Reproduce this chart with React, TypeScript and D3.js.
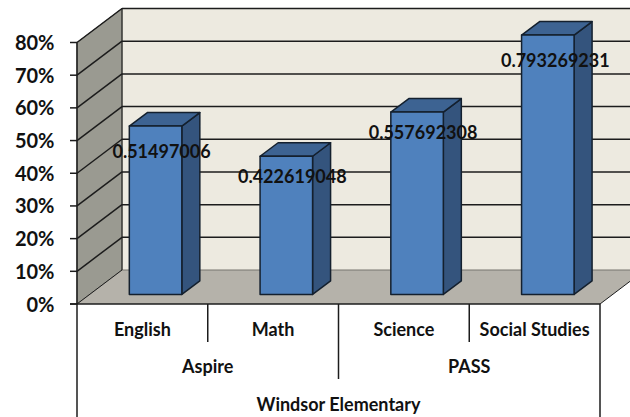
import React from 'react';
import * as d3 from 'd3';

const subjects = ['English', 'Math', 'Science', 'Social Studies'];
const values = [0.51497006, 0.422619048, 0.557692308, 0.793269231];
const tests = [
  { name: 'Aspire', span: [0, 2] },
  { name: 'PASS', span: [2, 4] },
];
const school = 'Windsor Elementary';
const ticks = [0, 0.1, 0.2, 0.3, 0.4, 0.5, 0.6, 0.7, 0.8];

const FONT = 'Lato, Carlito, "Open Sans", sans-serif';
const INK = '#1c1c1c';

export default function App() {
  const width = 630;
  const height = 417;

  // front plane of the 3d box
  const x = d3.scaleBand<number>().domain(d3.range(subjects.length)).range([77, 600]);
  const y = d3.scaleLinear().domain([0, 0.8]).range([304, 42.5]);
  const depth = { x: 45, y: -34 };
  const floorY = y(0);
  const topY = y(0.8);

  // bars sit part way into the box
  const barInset = { x: 13.2, y: -9.6 };
  const barWidth = 52.5;
  const barDepth = { x: 18, y: -13.5 };

  // data labels were placed by hand in the original
  const labelDx = [6, 6, 6, 7.5];
  const labelDy = [25.5, 20.5, 20.5, 26];

  const pts = (p: number[][]) => p.map(d => d.join(',')).join(' ');
  const bandEdge = (i: number) => x(i) ?? x.range()[1];

  return (
    <svg width={width} height={height} style={{ position: 'absolute', left: 0, top: 0 }}>
      <rect width={width} height={height} fill="#fff" />

      {/* walls */}
      <polygon
        points={pts([[77 + depth.x, topY + depth.y], [600 + depth.x, topY + depth.y], [600 + depth.x, floorY + depth.y], [77 + depth.x, floorY + depth.y]])}
        fill="#edeae0"
      />
      <polygon
        points={pts([[77, topY], [77 + depth.x, topY + depth.y], [77 + depth.x, floorY + depth.y], [77, floorY]])}
        fill="#9a9a91"
        stroke="#66665f"
        strokeWidth={1}
      />
      <polygon
        points={pts([[77, floorY], [600, floorY], [600 + depth.x, floorY + depth.y], [77 + depth.x, floorY + depth.y]])}
        fill="#b5b2aa"
      />

      {/* gridlines */}
      {ticks.map(t => (
        <g key={t} stroke={INK} strokeWidth={t === 0 ? 1 : 1.5} fill="none">
          {t > 0 && <line x1={77 + depth.x} x2={600 + depth.x} y1={y(t) + depth.y} y2={y(t) + depth.y} />}
          <line x1={77} y1={y(t)} x2={77 + depth.x} y2={y(t) + depth.y} />
          <line x1={70} x2={77} y1={y(t)} y2={y(t)} strokeWidth={1.5} />
        </g>
      ))}
      <line x1={77 + depth.x} x2={600 + depth.x} y1={floorY + depth.y} y2={floorY + depth.y} stroke="#77756e" strokeWidth={1} />

      {/* bars */}
      {values.map((v, i) => {
        const x0 = x(i)! + (x.bandwidth() - barWidth) / 2 + barInset.x;
        const x1 = x0 + barWidth;
        const bottom = floorY + barInset.y;
        const top = y(v) + barInset.y;
        return (
          <g key={subjects[i]} stroke="#14202e" strokeWidth={1.5} strokeLinejoin="round">
            <polygon
              points={pts([[x1, top], [x1 + barDepth.x, top + barDepth.y], [x1 + barDepth.x, bottom + barDepth.y], [x1, bottom]])}
              fill="#34547d"
            />
            <polygon
              points={pts([[x0, top], [x0 + barDepth.x, top + barDepth.y], [x1 + barDepth.x, top + barDepth.y], [x1, top]])}
              fill="#3d6392"
            />
            <rect x={x0} y={top} width={barWidth} height={bottom - top} fill="#4f81bd" />
          </g>
        );
      })}

      {/* front axis and category brackets */}
      <g stroke={INK} strokeWidth={1.5}>
        <line x1={77} x2={77} y1={topY} y2={height} />
        <line x1={70} x2={600} y1={floorY} y2={floorY} />
        <line x1={600} x2={600} y1={floorY} y2={height} />
        <line x1={600} y1={floorY} x2={600 + depth.x} y2={floorY + depth.y} strokeWidth={1} />
        <line x1={77 + depth.x} y1={topY + depth.y} x2={77 + depth.x} y2={floorY + depth.y} strokeWidth={1} />
        <line x1={bandEdge(1)} x2={bandEdge(1)} y1={floorY} y2={342} />
        <line x1={bandEdge(2)} x2={bandEdge(2)} y1={floorY} y2={379} />
        <line x1={bandEdge(3)} x2={bandEdge(3)} y1={floorY} y2={342} />
      </g>

      {/* text */}
      <g fontFamily={FONT} fontWeight={700} fill="#111">
        {ticks.map(t => (
          <text key={t} x={54.5} y={y(t) + 0.5} dy="0.35em" textAnchor="end" fontSize={20}>
            {d3.format('.0%')(t)}
          </text>
        ))}
        {subjects.map((s, i) => (
          <text key={s} x={x(i)! + x.bandwidth() / 2} y={330} dy="0.35em" textAnchor="middle" fontSize={18}>
            {s}
          </text>
        ))}
        {tests.map(t => (
          <text key={t.name} x={(bandEdge(t.span[0]) + bandEdge(t.span[1])) / 2} y={367} dy="0.35em" textAnchor="middle" fontSize={18}>
            {t.name}
          </text>
        ))}
        <text x={(77 + 600) / 2} y={405} dy="0.35em" textAnchor="middle" fontSize={18}>
          {school}
        </text>
        {values.map((v, i) => (
          <text
            key={v}
            x={x(i)! + x.bandwidth() / 2 + barInset.x + labelDx[i]}
            y={y(v) + barInset.y + labelDy[i]}
            dy="0.35em"
            textAnchor="middle"
            fontSize={18}
          >
            {v}
          </text>
        ))}
      </g>
    </svg>
  );
}
